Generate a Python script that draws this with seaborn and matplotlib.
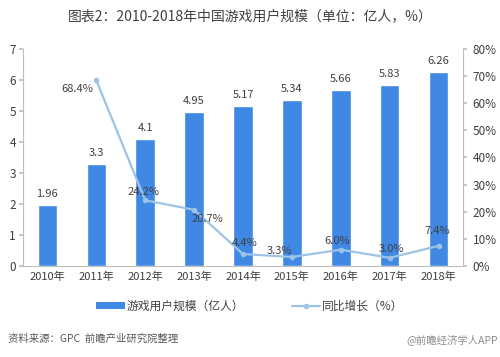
import pandas as pd
import matplotlib.pyplot as plt
import seaborn as sns
from matplotlib.patches import Patch
from matplotlib.lines import Line2D

# data
years = ['2010年', '2011年', '2012年', '2013年', '2014年', '2015年', '2016年', '2017年', '2018年']
users = [1.96, 3.3, 4.1, 4.95, 5.17, 5.34, 5.66, 5.83, 6.26]
growth_years = ['2011年', '2012年', '2013年', '2014年', '2015年', '2016年', '2017年', '2018年']
growth = [68.4, 24.2, 20.7, 4.4, 3.3, 6.0, 3.0, 7.4]

bar_color = '#3F88E3'
line_color = '#9DC3E6'
text_color = '#404040'
axis_color = '#BFBFBF'

sns.set_theme(style='white')
plt.rcParams['font.family'] = ['Noto Sans CJK SC', 'DejaVu Sans']

fig = plt.figure(figsize=(5, 3.57), dpi=100)
ax = fig.add_axes([0.046, 0.255, 0.88, 0.608])

bars = pd.DataFrame({'year': years, 'users': users})
sns.barplot(data=bars, x='year', y='users', color=bar_color, width=0.4,
            saturation=1, ax=ax)
ax.set_xlim(-0.5, len(years) - 0.5)
ax.set_ylim(0, 7)
ax.set_yticks(range(0, 8))
ax.set_xlabel('')
ax.set_ylabel('')

# bar value labels
for i, v in enumerate(users):
    ax.annotate(f'{v:g}', (i, v), xytext=(0, 6), textcoords='offset pixels',
                ha='center', va='bottom', fontsize=8, color=text_color)

# growth line on the right axis
ax2 = ax.twinx()
line = pd.DataFrame({'pos': [years.index(y) for y in growth_years], 'growth': growth})
sns.lineplot(data=line, x='pos', y='growth', color=line_color, linewidth=1.6,
             marker='o', markersize=4, markeredgewidth=0, ax=ax2)
ax2.set_ylim(0, 80)
ax2.set_yticks(range(0, 90, 10))
ax2.set_yticklabels([f'{t}%' for t in range(0, 90, 10)])
ax2.set_xlim(-0.5, len(years) - 0.5)
ax2.set_xlabel('')
ax2.set_ylabel('')

label_offsets = [(-19, -9), (-2, 8), (13, -9), (2, 11), (-12, 6), (-4, 9), (2, 9), (-1, 15)]
for (x, v), off in zip(zip(line['pos'], growth), label_offsets):
    ax2.annotate(f'{v:.1f}%', (x, v), xytext=off, textcoords='offset pixels',
                 ha='center', va='center', fontsize=8, color=text_color)

# axes styling
for a in (ax, ax2):
    a.spines['top'].set_visible(False)
    for s in ('left', 'right', 'bottom'):
        a.spines[s].set_color(axis_color)
        a.spines[s].set_linewidth(0.8)
ax.spines['right'].set_visible(False)
ax2.spines['left'].set_visible(False)
ax2.spines['bottom'].set_visible(False)

ax.tick_params(axis='y', length=3, color=axis_color, labelsize=8.5, labelcolor=text_color, pad=2)
ax.tick_params(axis='x', which='major', length=0, labelsize=8, labelcolor=text_color, pad=4)
ax.set_xticks([i - 0.5 for i in range(len(years) + 1)], minor=True)
ax.tick_params(axis='x', which='minor', length=4, color=axis_color)
ax2.tick_params(axis='y', length=3, color=axis_color, labelsize=8.5, labelcolor=text_color, pad=4)

fig.text(0.5, 0.955, '图表2：2010-2018年中国游戏用户规模（单位：亿人，%）',
         ha='center', va='center', fontsize=10, color=text_color)

handles = [Patch(facecolor=bar_color, edgecolor='none'),
           Line2D([0], [0], color=line_color, linewidth=1.6, marker='o', markersize=3)]
fig.legend(handles, ['游戏用户规模（亿人）', '同比增长（%）'], loc='center',
           bbox_to_anchor=(0.5, 0.142), ncol=2, frameon=False, fontsize=8.5,
           handlelength=2.4, handleheight=0.6, columnspacing=4, handletextpad=0.2,
           labelcolor=text_color)

fig.text(0.016, 0.05, '资料来源：GPC  前瞻产业研究院整理', ha='left', va='center',
         fontsize=7.5, color='#595959', style='italic')
fig.text(0.995, 0.05, '@前瞻经济学人APP', ha='right', va='center',
         fontsize=7.5, color='#8C8C8C')

fig.savefig('out.png', dpi=100)
